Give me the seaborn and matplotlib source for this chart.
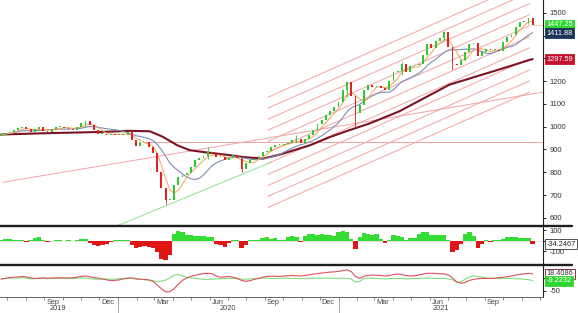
import numpy as np
import pandas as pd
import matplotlib
matplotlib.use("Agg")
import matplotlib.pyplot as plt
import matplotlib.transforms as mtrans
from matplotlib.lines import Line2D
import seaborn as sns

# ---------------- data (weekly) ----------------
week_start = "2019-06-21"
closes = [965, 972, 975, 985, 995, 1000, 988, 975, 990, 997,
          982, 977, 990, 998, 1000, 995, 992, 986, 1000, 1015,
          1025, 1008, 985, 968, 970, 964, 968, 965, 970, 965,
          978, 940, 915, 935, 932, 910, 885, 800, 730, 680,
          680, 745, 778, 790, 798, 825, 852, 862, 870, 888,
          880, 866, 866, 855, 862, 875, 862, 815, 840, 852,
          860, 870, 890, 895, 911, 918, 919, 925, 930, 940,
          945, 930, 945, 965, 985, 1010, 1030, 1050, 1070, 1085,
          1110, 1160, 1195, 1135, 1060, 1095, 1160, 1183, 1175, 1178,
          1172, 1161, 1200, 1240, 1245, 1275, 1240, 1265, 1271, 1275,
          1315, 1362, 1345, 1378, 1388, 1418, 1350, 1275, 1270, 1292,
          1329, 1362, 1366, 1312, 1330, 1340, 1337, 1338, 1335, 1373,
          1395, 1405, 1440, 1462, 1465, 1477, 1447.25]
first_open = 960

wick_dates = ["2019-11-08", "2020-03-20", "2020-05-29", "2020-07-24",
              "2020-10-23", "2021-01-15", "2021-01-29", "2021-04-16",
              "2021-06-25", "2021-07-09", "2021-11-12"]
wick_lows = [1000, 660, 860, 800, 930, 1130, 1000, 1227, 1380, 1249, 1450]
wick_highs = [1026, 700, 910, 862, 963, 1197, 1135, 1285, 1422, 1300, 1480]

# 200-day style moving average
red_ma_dates = ["2019-06-21", "2019-09-10", "2019-12-02", "2020-01-21",
                "2020-02-23", "2020-03-16", "2020-04-08", "2020-04-29",
                "2020-05-21", "2020-06-13", "2020-07-05", "2020-07-26",
                "2020-08-29", "2020-09-26", "2020-11-15", "2020-12-18",
                "2021-01-19", "2021-02-21", "2021-04-12", "2021-07-04",
                "2021-09-25", "2021-11-19"]
red_ma_vals = [966, 972, 977, 982, 980, 955, 919, 897, 889, 882, 875, 867,
               860, 878, 919, 955, 985, 1014, 1068, 1185, 1252, 1297.59]

# oscillator histogram (panel 1)
hist_vals = [10, 12, 15, 10, 8, 5, -8, 5, 28, 30,
             5, -15, -5, 5, 3, -5, 3, -5, 3, 12,
             18, -20, -45, -50, -40, -30, -10, 5, 10, 8,
             10, -40, -65, -55, -50, -60, -70, -110, -170, -185,
             -130, 60, 92, 80, 55, 50, 45, 40, 42, 38,
             35, -30, -40, -60, -20, 5, 3, -70, -45, 5,
             10, 8, 28, 30, 20, 25, 10, 5, 35, 42,
             30, -10, 45, 60, 62, 58, 60, 55, 50, 45,
             80, 88, 82, 20, -75, 30, 70, 65, 55, 60,
             20, -20, 10, 50, 45, 30, 5, 25, 28, 60,
             85, 80, 50, 55, 52, 50, 10, -110, -90, -30,
             60, 80, 40, -65, -30, 5, -10, 5, 3, 20,
             35, 35, 30, 25, 28, 22, -34.2467]

# two oscillator lines (panel 2)
osc_red = [-3, 0, 4, 5, 6, 8, 6, 2, 0, 1,
           2, 1, 2, 2, 3, 2, 2, 3, 5, 8,
           10, 7, 3, 1, -2, -6, -9, -8, -6, -2,
           1, 2, -1, -3, -4, -6, -12, -27, -42, -55,
           -54, -42, -24, -8, 2, 8, 13, 17, 20, 21,
           19, 10, 5, 6, 8, 5, 0, -8, -12, -9,
           -4, 0, 5, 8, 9, 9, 8, 10, 11, 12,
           11, 10, 12, 15, 17, 20, 22, 24, 26, 27,
           29, 32, 35, 28, 8, 0, 9, 12, 14, 13,
           12, 10, 12, 16, 18, 16, 12, 10, 11, 14,
           18, 21, 21, 20, 19, 19, 14, 2, -14, -20,
           -16, -8, -4, -1, 0, 0, 0, 1, 3, 5,
           7, 10, 14, 17, 19, 21, 18.4086]
osc_green = [0, 0, 1, 2, 2, 3, 1, -2, -1, 1,
             1, -1, 0, 1, 1, 0, 0, -1, 1, 2,
             2, -1, -3, -3, -3, -2, -4, -3, -1, 0,
             1, 0, -3, -4, -5, -6, -9, -13, -11, -7,
             2, 14, 16, 10, 5, 2, 0, -2, -3, -4,
             -3, -2, -1, -1, 0, 0, -1, -3, -3, -2,
             -1, 0, 1, 1, 0, 0, 0, 1, 1, 0,
             0, -1, 0, 1, 1, 1, 1, 1, 1, 0,
             1, 1, 0, -2, -15, -12, 0, 1, 1, 0,
             -1, -2, -1, 0, 0, 0, -2, -1, 0, 0,
             1, 1, 0, 0, 0, 0, -2, -6, -15, -14,
             -3, 6, 10, 8, 5, 2, 0, 0, -1, 0,
             0, 0, -1, -2, -3, -5, -9.2232]

# drawn trend lines (start date, end date, start value, end value)
ascending_line = ("2019-06-24", "2021-12-06", 756, 1152)
horizontal_line = ("2020-02-11", "2021-12-06", 933, 933)
green_line = ("2020-01-01", "2020-09-12", 566, 845)
channel_start, channel_end = "2020-09-06", "2021-11-14"
channel_start_vals = [1130, 1082, 1033, 985, 936, 888, 839, 791, 742, 694, 645]
channel_rise = 508

last_labels_main = [(1447.25, "1447.25", "#2fd62f", "white"),
                    (1411.88, "1411.88", "#1d3658", "white"),
                    (1297.59, "1297.59", "#c4122f", "white")]

# ---------------- build ----------------
weeks = pd.date_range(week_start, periods=len(closes), freq="7D")
df = pd.DataFrame({"date": weeks, "close": closes})
df["open"] = [first_open] + closes[:-1]
df["ma_fast"] = df["close"].rolling(4, min_periods=1).mean()
df["ma_mid"] = df["close"].rolling(10, min_periods=1).mean()
df["hist"] = hist_vals
df["osc_red"] = osc_red
df["osc_green"] = osc_green
red_df = pd.DataFrame({"date": pd.to_datetime(red_ma_dates), "v": red_ma_vals})

sns.set_theme(style="white")
plt.rcParams["font.family"] = ["Liberation Sans", "DejaVu Sans"]

W, H = 578, 313
fig = plt.figure(figsize=(W / 100, H / 100), dpi=100)
fig.patch.set_facecolor("white")


def px_axes(x0, y0, x1, y1):
    return fig.add_axes([x0 / W, 1 - y1 / H, (x1 - x0) / W, (y1 - y0) / H])


ax = px_axes(0, 0, 543, 225.5)
ax1 = px_axes(0, 226, 543, 264.5)
ax2 = px_axes(0, 265, 543, 296.5)

t0 = pd.Timestamp("2020-01-01")
xl = (t0 - pd.Timedelta(days=195.8), t0 + pd.Timedelta(days=705.2))

# ---- main panel ----
lc = "#f2a3a3"
for (s, e, v0, v1), col in [(ascending_line, lc), (horizontal_line, lc), (green_line, "#8fe08f")]:
    ax.plot(pd.to_datetime([s, e]), [v0, v1], color=col, lw=0.7, zorder=1)
for v0 in channel_start_vals:
    ax.plot(pd.to_datetime([channel_start, channel_end]), [v0, v0 + channel_rise],
            color=lc, lw=0.7, zorder=1)

sns.lineplot(data=red_df, x="date", y="v", ax=ax, color="#7a1424", lw=1.5, zorder=3)
sns.lineplot(data=df, x="date", y="ma_mid", ax=ax, color="#7f8db5", lw=0.8, zorder=3)
sns.lineplot(data=df, x="date", y="ma_fast", ax=ax, color="#f1a45c", lw=0.7, zorder=3)

body = df["close"] - df["open"]
up = body >= 0
hgt = np.where(body.abs() < 4, np.where(up, 4, -4), body)
cols = np.where(up, "#2ccc2c", "#e02222")
for d, lo, hi in zip(pd.to_datetime(wick_dates), wick_lows, wick_highs):
    c = cols[df.index[df["date"] == d][0]]
    ax.vlines(d, lo, hi, color=c, lw=0.6, zorder=4)
ax.bar(df["date"], hgt, bottom=df["open"], width=3.0, color=cols, linewidth=0, zorder=4)
ax.hlines(closes[-1], df["date"].iloc[-1], xl[1], colors="#e7a048", linestyles=(0, (1, 1.5)),
          lw=0.8, zorder=4)

ax.set_xlim(*xl)
ax.set_ylim(566, 1557)
ticks = list(range(600, 1501, 100))
ax.set_yticks(ticks)
ax.set_yticklabels(["" if t in (1300, 1400) else str(t) for t in ticks])

# ---- panel 1 ----
hcol = np.where(df["hist"] >= 0, "#33dd33", "#e01515")
ax1.bar(df["date"], df["hist"], width=7.2, color=hcol, linewidth=0)
ax1.axhline(0, color="#d0d0d0", lw=0.4, zorder=0)
ax1.set_xlim(*xl)
ax1.set_ylim(-224, 138)
ax1.set_yticks([100, 0, -100])
ax1.set_yticklabels(["100", "", "-100"])

# ---- panel 2 ----
sns.lineplot(data=df, x="date", y="osc_green", ax=ax2, color="#7ee07e", lw=0.8)
sns.lineplot(data=df, x="date", y="osc_red", ax=ax2, color="#e0505a", lw=0.8)
ax2.set_xlim(*xl)
ax2.set_ylim(-74, 55)
ax2.set_yticks([0, -50])
ax2.set_yticklabels(["", "-50"])

for a in (ax, ax1, ax2):
    a.set_facecolor("white")
    a.set_xlabel("")
    a.set_ylabel("")
    a.grid(False)
    for s in ("top", "left", "bottom"):
        a.spines[s].set_visible(False)
    a.spines["right"].set_color("#222222")
    a.spines["right"].set_linewidth(0.8)
    a.yaxis.tick_right()
    a.tick_params(axis="y", which="both", right=True, left=False, direction="out",
                  length=2.5, width=0.7, color="#222222", labelsize=5.5,
                  labelcolor="#333333", pad=2)
    a.tick_params(axis="x", which="both", bottom=False, labelbottom=False)

# x axis on the bottom panel
ax2.spines["bottom"].set_visible(True)
ax2.spines["bottom"].set_color("#666666")
ax2.spines["bottom"].set_linewidth(0.7)
months = pd.date_range("2019-07-01", "2021-12-01", freq="MS")
ax2.set_xticks(months, minor=True)
lab_dates = pd.to_datetime(["2019-09-15", "2019-12-15", "2020-03-15", "2020-06-15",
                            "2020-09-15", "2020-12-15", "2021-03-15", "2021-06-15",
                            "2021-09-15"])
ax2.set_xticks(lab_dates)
ax2.set_xticklabels(["Sep", "Dec", "Mar", "Jun", "Sep", "Dec", "Mar", "Jun", "Sep"])
ax2.tick_params(axis="x", which="major", bottom=True, labelbottom=True, length=0,
                labelsize=5.3, labelcolor="#444444", pad=1.5)
ax2.tick_params(axis="x", which="minor", bottom=True, length=2, width=0.6, color="#777777")

tr = mtrans.blended_transform_factory(ax2.transData, ax2.transAxes)
for yd in ["2020-01-01", "2021-01-01"]:
    ax2.add_line(Line2D([pd.Timestamp(yd)] * 2, [0, -0.52], transform=tr, color="#999999",
                        lw=0.6, clip_on=False))
for yr, d in [("2019", "2019-09-23"), ("2020", "2020-07-01"), ("2021", "2021-06-20")]:
    ax2.text(pd.Timestamp(d), -0.37, yr, transform=tr, ha="center", va="center",
             fontsize=5.3, color="#444444")

# separators between panels
for yy in (225.6, 264.7):
    fig.add_artist(Line2D([0, 572 / W], [1 - yy / H] * 2, color="#1e1e1e", lw=1.7))


def tag(a, val, txt, fc, tc, ec=None):
    a.annotate(txt, xy=(1, val), xycoords=("axes fraction", "data"), xytext=(2.5, 0),
               textcoords="offset points", ha="left", va="center", fontsize=5.3,
               color=tc, annotation_clip=False, zorder=10,
               bbox=dict(boxstyle="square,pad=0.18", fc=fc, ec=ec if ec else fc, lw=0.6))


for v, t, fc, tc in last_labels_main:
    tag(ax, v, t, fc, tc)
tag(ax1, hist_vals[-1], "-34.2467", "white", "#222222", "#333333")
tag(ax2, osc_red[-1], "18.4086", "white", "#333333", "#7a1424")
tag(ax2, osc_green[-1], "-9.2232", "#2fd62f", "white")

fig.savefig("out.png", dpi=100, facecolor="white")
